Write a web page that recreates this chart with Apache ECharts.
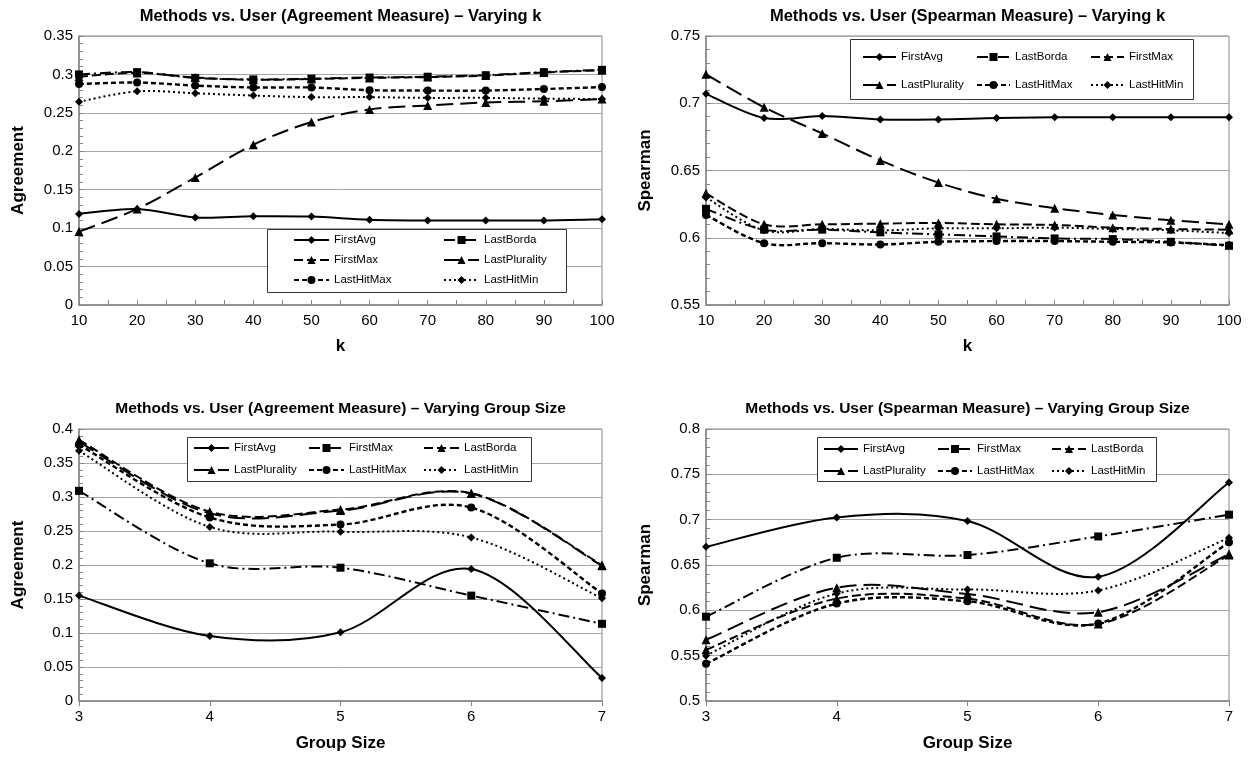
<!DOCTYPE html>
<html><head><meta charset="utf-8">
<script src="https://cdn.jsdelivr.net/npm/echarts@6/dist/echarts.min.js"></script>
<style>
html,body{margin:0;padding:0;background:#fff;width:1255px;height:763px;overflow:hidden}
.c{position:absolute}
</style></head><body>
<div id="tl" class="c" style="left:0;top:0;width:627px;height:381px"></div>
<div id="tr" class="c" style="left:627px;top:0;width:628px;height:381px"></div>
<div id="bl" class="c" style="left:0;top:381px;width:627px;height:382px"></div>
<div id="br" class="c" style="left:627px;top:381px;width:628px;height:382px"></div>
<script>
// ---------- data ----------
const kValues = [10,20,30,40,50,60,70,80,90,100];
const groupSizes = [3,4,5,6,7];

// Top-left: Agreement vs k
const tlFirstAvg      = [0.1185,0.125,0.114,0.1155,0.115,0.111,0.110,0.110,0.110,0.1115];
const tlLastBorda     = [0.300,0.303,0.2955,0.2935,0.2945,0.296,0.297,0.299,0.303,0.306];
const tlFirstMax      = [0.297,0.302,0.2960,0.2930,0.2940,0.2955,0.2965,0.2985,0.3025,0.3055];
const tlLastPlurality = [0.0955,0.125,0.166,0.2085,0.238,0.2545,0.2595,0.2635,0.265,0.268];
const tlLastHitMax    = [0.2875,0.2895,0.2855,0.283,0.283,0.2795,0.279,0.279,0.281,0.2835];
const tlLastHitMin    = [0.2645,0.278,0.2755,0.2725,0.2705,0.2705,0.2695,0.2695,0.2685,0.268];

// Top-right: Spearman vs k
const trFirstAvg      = [0.707,0.689,0.6905,0.688,0.688,0.689,0.6895,0.6895,0.6895,0.6895];
const trLastBorda     = [0.6215,0.606,0.606,0.604,0.6025,0.601,0.5995,0.599,0.597,0.594];
const trFirstMax      = [0.633,0.610,0.610,0.6105,0.611,0.610,0.6095,0.6075,0.6065,0.606];
const trLastPlurality = [0.7215,0.697,0.6775,0.6575,0.641,0.629,0.622,0.617,0.613,0.610];
const trLastHitMax    = [0.617,0.596,0.596,0.595,0.597,0.5975,0.5975,0.597,0.5965,0.5945];
const trLastHitMin    = [0.630,0.6055,0.6065,0.6055,0.607,0.607,0.6075,0.6065,0.6055,0.6035];

// Bottom-left: Agreement vs group size
const blFirstAvg      = [0.155,0.0955,0.101,0.194,0.034];
const blFirstMax      = [0.309,0.2025,0.196,0.155,0.1135];
const blLastBorda     = [0.384,0.2785,0.2815,0.3055,0.200];
const blLastPlurality = [0.381,0.276,0.280,0.305,0.199];
const blLastHitMax    = [0.377,0.270,0.2595,0.2845,0.158];
const blLastHitMin    = [0.368,0.256,0.249,0.2405,0.151];

// Bottom-right: Spearman vs group size
const brFirstAvg      = [0.670,0.7025,0.6985,0.637,0.741];
const brFirstMax      = [0.593,0.658,0.661,0.6815,0.7055];
const brLastBorda     = [0.5565,0.613,0.613,0.585,0.661];
const brLastPlurality = [0.5675,0.625,0.618,0.598,0.662];
const brLastHitMax    = [0.541,0.6075,0.610,0.5855,0.675];
const brLastHitMin    = [0.550,0.6185,0.623,0.622,0.680];

// ---------- styles ----------
const FONT = '"Liberation Sans", Arial, sans-serif';
const ST = {
  solid:    {type:'solid', width:2},
  dashDot:  {type:[11,4,2,4], width:2},
  dash:     {type:[9,4], width:2},
  longDash: {type:[17,7], width:2},
  shortDash:{type:[5,3], width:2.4},
  dot:      {type:[2,3], width:2}
};
const MK = {
  diamond:{symbol:'diamond', size:8},
  square:{symbol:'rect', size:8},
  tri:{symbol:'triangle', size:9},
  circle:{symbol:'circle', size:8}
};

// markers (and legend entry) via a line series whose own straight line is hidden
function markSeries(name, xs, vals, style, mk) {
  return {
    name, type:'line', smooth:false,
    data: vals.map((v,i)=>[xs[i], v]),
    symbol: mk.symbol, symbolSize: mk.size, showAllSymbol:true,
    itemStyle:{color:'#000'},
    lineStyle: Object.assign({color:'#000', opacity:0}, style),
    z: 4
  };
}
// Excel-style smoothed curve (Catmull-Rom -> Bezier) drawn through the axis scales
function curveSeries(name, xs, vals, style) {
  return {
    type:'custom', name: name + ' curve', silent:true, z:3,
    data: vals.map((v,i)=>[xs[i], v]),
    encode:{x:0, y:1},
    renderItem(params, api) {
      if (params.dataIndex !== 0) return null;
      const pts = vals.map((v,i)=>api.coord([xs[i], v]));
      const n = pts.length;
      let d = 'M' + pts[0][0].toFixed(2) + ' ' + pts[0][1].toFixed(2);
      for (let i = 0; i < n - 1; i++) {
        const p0 = pts[Math.max(i-1,0)], p1 = pts[i], p2 = pts[i+1], p3 = pts[Math.min(i+2,n-1)];
        const c1x = p1[0] + (p2[0]-p0[0])/6, c1y = p1[1] + (p2[1]-p0[1])/6;
        const c2x = p2[0] - (p3[0]-p1[0])/6, c2y = p2[1] - (p3[1]-p1[1])/6;
        d += ' C' + [c1x,c1y,c2x,c2y,p2[0],p2[1]].map(t=>t.toFixed(2)).join(' ');
      }
      return {
        type:'path', shape:{pathData:d},
        style:{fill:'none', stroke:'#000', lineWidth:style.width,
               lineDash: Array.isArray(style.type) ? style.type : null}
      };
    }
  };
}

function build(id, c) {
  const chart = echarts.init(document.getElementById(id), null, {renderer:'canvas'});
  const gridLeft = 79, gridW = 523;
  const axisGray = '#868686';
  const series = [];
  c.lines.forEach(l => series.push(curveSeries(l[0], c.xs, l[1], l[2])));
  c.lines.forEach(l => series.push(markSeries(l[0], c.xs, l[1], l[2], l[3])));
  chart.setOption({
    animation:false,
    backgroundColor:'#fff',
    textStyle:{fontFamily:FONT},
    grid:{left:gridLeft, top:c.gridTop, width:gridW, height:c.gridH, show:true, borderColor:axisGray, borderWidth:1, containLabel:false},
    xAxis:{
      type:'value', min:c.xMin, max:c.xMax, interval:c.xInt,
      name:c.xName, nameLocation:'middle', nameGap:c.xNameGap,
      nameTextStyle:{fontSize:17, fontWeight:'bold', color:'#000', fontFamily:FONT},
      axisLine:{show:true, lineStyle:{color:axisGray, width:1.5}},
      axisTick:{show:true, inside:c.xTickInside, length:5, lineStyle:{color:axisGray}},
      minorTick:{show:c.xMinor>0, splitNumber:c.xMinor||2, length:5, lineStyle:{color:axisGray}},
      splitLine:{show:false},
      axisLabel:{fontSize:15, color:'#000', margin:8, fontFamily:FONT}
    },
    yAxis:{
      type:'value', min:c.yMin, max:c.yMax, interval:c.yInt,
      name:c.yName, nameLocation:'middle', nameGap:c.yNameGap,
      nameTextStyle:{fontSize:17, fontWeight:'bold', color:'#000', fontFamily:FONT},
      axisLine:{show:true, lineStyle:{color:axisGray, width:1.5}},
      axisTick:{show:true, inside:true, length:5, lineStyle:{color:axisGray}},
      minorTick:{show:true, splitNumber:5, length:4, lineStyle:{color:axisGray}},
      splitLine:{show:true, lineStyle:{color:'#a6a6a6', width:1}},
      axisLabel:{fontSize:15, color:'#000', margin:6, fontFamily:FONT, formatter:(v)=>String(+v.toFixed(2))}
    },
    legend:{
      left:c.lg.left, top:c.lg.top, width:c.lg.width, orient:'horizontal',
      padding:0, itemGap:c.lg.gap, itemWidth:c.lg.itemW, itemHeight:10,
      selectedMode:false, z:6,
      textStyle:{fontSize:11.5, color:'#000', fontFamily:FONT, width:c.lg.textW, lineHeight:c.lg.lineH, overflow:'none'},
      data:c.lines.map(l=>({name:l[0], lineStyle:{opacity:1}}))
    },
    graphic:[
      {type:'rect', shape:{x:c.box[0], y:c.box[1], width:c.box[2], height:c.box[3]},
       style:{fill:'#fff', stroke:'#333', lineWidth:1}, z:5, silent:true},
      {type:'text', x:gridLeft+gridW/2, y:c.titleY, z:5, silent:true,
       style:{text:c.title, font:'bold '+c.titleSize+'px '+FONT, fill:'#000', align:'center', verticalAlign:'middle'}}
    ],
    series:series
  });
  return chart;
}

build('tl', {
  xs:kValues, gridTop:36, gridH:269, xMin:10, xMax:100, xInt:10, xMinor:2, xTickInside:true,
  yMin:0, yMax:0.35, yInt:0.05,
  xName:'k', xNameGap:33, yName:'Agreement', yNameGap:52,
  title:'Methods vs. User (Agreement Measure) \u2013 Varying k', titleY:16, titleSize:16.5,
  box:[267.5,229.5,299,63],
  lg:{left:293, top:233, width:300, gap:6, itemW:35, textW:103, lineH:14},
  lines:[
    ['FirstAvg', tlFirstAvg, ST.solid, MK.diamond],
    ['LastBorda', tlLastBorda, ST.dashDot, MK.square],
    ['FirstMax', tlFirstMax, ST.dash, MK.tri],
    ['LastPlurality', tlLastPlurality, ST.longDash, MK.tri],
    ['LastHitMax', tlLastHitMax, ST.shortDash, MK.circle],
    ['LastHitMin', tlLastHitMin, ST.dot, MK.diamond]
  ]
});

build('tr', {
  xs:kValues, gridTop:36, gridH:269, xMin:10, xMax:100, xInt:10, xMinor:2, xTickInside:true,
  yMin:0.55, yMax:0.75, yInt:0.05,
  xName:'k', xNameGap:33, yName:'Spearman', yNameGap:52,
  title:'Methods vs. User (Spearman Measure) \u2013 Varying k', titleY:16, titleSize:16.5,
  box:[223.5,39.5,343,60],
  lg:{left:235, top:47, width:345, gap:8, itemW:33, textW:67, lineH:20},
  lines:[
    ['FirstAvg', trFirstAvg, ST.solid, MK.diamond],
    ['LastBorda', trLastBorda, ST.dashDot, MK.square],
    ['FirstMax', trFirstMax, ST.dash, MK.tri],
    ['LastPlurality', trLastPlurality, ST.longDash, MK.tri],
    ['LastHitMax', trLastHitMax, ST.shortDash, MK.circle],
    ['LastHitMin', trLastHitMin, ST.dot, MK.diamond]
  ]
});

build('bl', {
  xs:groupSizes, gridTop:48, gridH:272, xMin:3, xMax:7, xInt:1, xMinor:0, xTickInside:false,
  yMin:0, yMax:0.4, yInt:0.05,
  xName:'Group Size', xNameGap:34, yName:'Agreement', yNameGap:52,
  title:'Methods vs. User (Agreement Measure) \u2013 Varying Group Size', titleY:28, titleSize:15.5,
  box:[187.5,56.5,344,44],
  lg:{left:193, top:60, width:345, gap:8, itemW:35, textW:66, lineH:14},
  lines:[
    ['FirstAvg', blFirstAvg, ST.solid, MK.diamond],
    ['FirstMax', blFirstMax, ST.dashDot, MK.square],
    ['LastBorda', blLastBorda, ST.dash, MK.tri],
    ['LastPlurality', blLastPlurality, ST.longDash, MK.tri],
    ['LastHitMax', blLastHitMax, ST.shortDash, MK.circle],
    ['LastHitMin', blLastHitMin, ST.dot, MK.diamond]
  ]
});

build('br', {
  xs:groupSizes, gridTop:48, gridH:272, xMin:3, xMax:7, xInt:1, xMinor:0, xTickInside:false,
  yMin:0.5, yMax:0.8, yInt:0.05,
  xName:'Group Size', xNameGap:34, yName:'Spearman', yNameGap:52,
  title:'Methods vs. User (Spearman Measure) \u2013 Varying Group Size', titleY:28, titleSize:15.5,
  box:[190.5,56.5,339,44],
  lg:{left:196, top:61, width:345, gap:8, itemW:34, textW:66, lineH:14},
  lines:[
    ['FirstAvg', brFirstAvg, ST.solid, MK.diamond],
    ['FirstMax', brFirstMax, ST.dashDot, MK.square],
    ['LastBorda', brLastBorda, ST.dash, MK.tri],
    ['LastPlurality', brLastPlurality, ST.longDash, MK.tri],
    ['LastHitMax', brLastHitMax, ST.shortDash, MK.circle],
    ['LastHitMin', brLastHitMin, ST.dot, MK.diamond]
  ]
});
</script>
</body></html>
